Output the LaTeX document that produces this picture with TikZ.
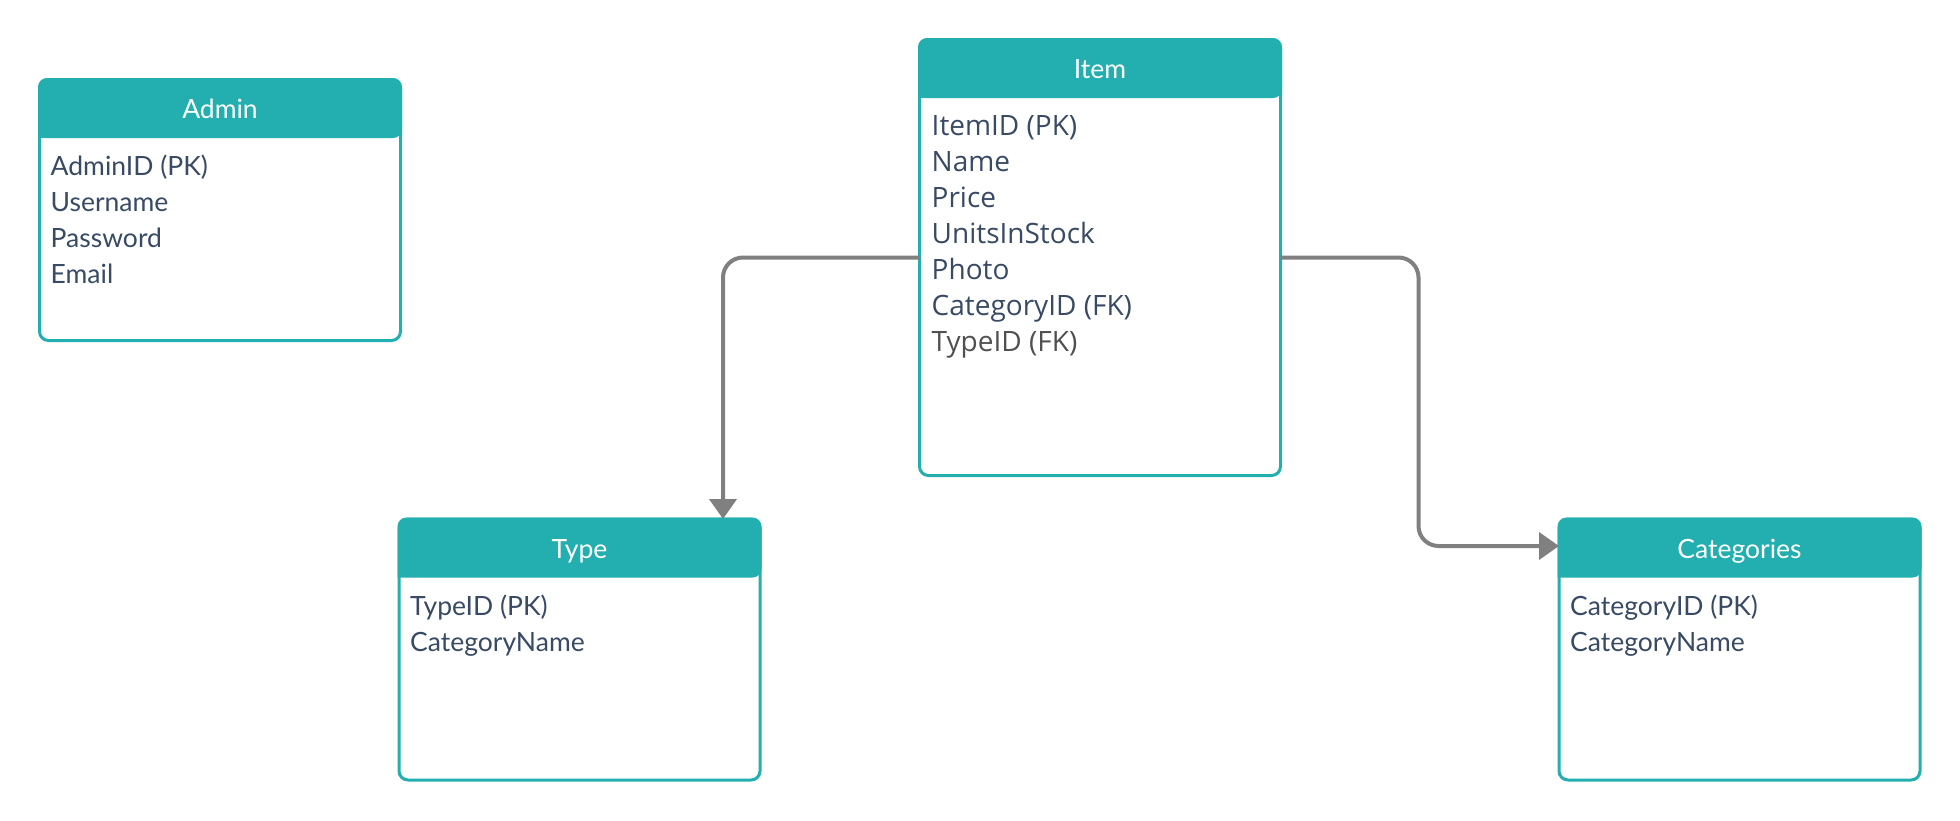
\documentclass[tikz,border=0pt]{standalone}
\usepackage{fontspec}
\setmainfont{Lato}
\newfontfamily\itemfont{Open Sans}
\usepackage{tikz}
\usetikzlibrary{arrows.meta}

\definecolor{erteal}{RGB}{35,175,175}
\definecolor{ertext}{RGB}{56,74,100}
\definecolor{erfk}{RGB}{80,80,80}
\definecolor{erlink}{RGB}{128,128,128}

% teal title band on top of a table node
\newcommand{\erhead}[1]{%
  \fill[erteal] ([xshift=-1.5pt,yshift=-58.5pt]#1.north west) [rounded corners=9pt]
    |- ([yshift=1.5pt]#1.north) -| ([xshift=1.5pt,yshift=-58.5pt]#1.north east)
    [sharp corners] -- cycle;}

\begin{document}
\begin{tikzpicture}[x=1pt, y=-1pt,
  tbl/.style={draw=erteal, fill=white, line width=3pt, rounded corners=9pt,
              minimum width=361pt, inner sep=0pt, outer sep=0pt},
  tbltitle/.style={text=white, font=\fontsize{26.5}{30}\selectfont,
                   anchor=base, inner sep=0pt},
  rows/.style={text=ertext, font=\fontsize{26.5}{36}\selectfont, align=left,
               anchor=base west, inner sep=0pt},
  link/.style={draw=erlink, line width=4pt, rounded corners=20pt,
               -{Triangle[length=20pt,width=27pt]}}
]
  \useasboundingbox (0,0) rectangle (1960,820);

  \node[tbl, minimum height=261pt] (admin) at (220,210) {};
  \node[tbl, minimum height=436pt] (item) at (1100,257.5) {};
  \node[tbl, minimum height=261pt] (type) at (579.5,649.5) {};
  \node[tbl, minimum height=261pt] (categories) at (1739.5,649.5) {};

  \erhead{admin}
  \erhead{item}
  \erhead{type}
  \erhead{categories}

  \node[tbltitle] (admintitle) at ([yshift=-39pt]admin.north) {Admin};
  \node[tbltitle] (itemtitle) at ([yshift=-39pt]item.north) {Item};
  \node[tbltitle] (typetitle) at ([yshift=-39pt]type.north) {Type};
  \node[tbltitle] (categoriestitle) at ([yshift=-39pt]categories.north) {Categories};

  % base anchor sits on the last row
  \node[rows] (adminrows) at ([xshift=11pt,yshift=-204pt]admin.north west)
    {AdminID (PK)\\Username\\Password\\Email};
  \node[rows, font=\itemfont\fontsize{28}{36}\selectfont] (itemrows)
    at ([xshift=12pt,yshift=-312pt]item.north west)
    {ItemID (PK)\\Name\\Price\\UnitsInStock\\Photo\\CategoryID (FK)\\{\color{erfk}TypeID (FK)}};
  \node[rows] (typerows) at ([xshift=11pt,yshift=-132pt]type.north west)
    {TypeID (PK)\\CategoryName};
  \node[rows] (categoriesrows) at ([xshift=11pt,yshift=-132pt]categories.north west)
    {CategoryID (PK)\\CategoryName};

  \draw[link] (item.west) -| ([xshift=-37pt]type.north east);
  \draw[link] (item.east) -- ++(138,0) |- ([yshift=-27pt]categories.north west);
\end{tikzpicture}
\end{document}
